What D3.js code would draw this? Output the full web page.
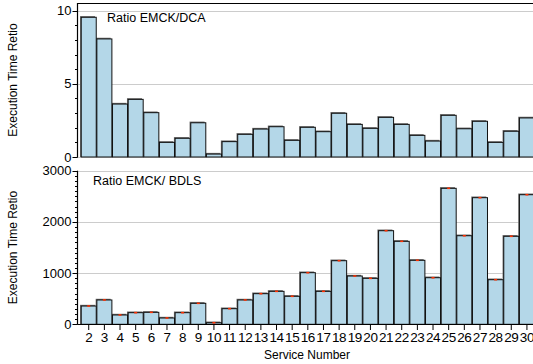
<!DOCTYPE html>
<html>
<head>
<meta charset="utf-8">
<script src="https://cdn.jsdelivr.net/npm/d3@7"></script>
<style>
  body { margin: 0; background: #fff; }
  svg { display: block; font-family: "Liberation Sans", Arial, Helvetica, sans-serif; }
</style>
</head>
<body>
<svg id="chart" width="533" height="364"></svg>
<script>
// service numbers 2..30
var services = [2,3,4,5,6,7,8,9,10,11,12,13,14,15,16,17,18,19,20,21,22,23,24,25,26,27,28,29,30];
// EMCK / DCA ratio
var ratioDCA = [9.55,8.07,3.62,3.94,3.03,1.0,1.28,2.34,0.2,1.05,1.55,1.91,2.07,1.14,2.03,1.73,2.99,
                2.23,1.96,2.71,2.23,1.48,1.09,2.85,1.93,2.44,1.0,1.76,2.67];
// EMCK / BDLS ratio
var ratioBDLS = [357,475,182,227,234,123,227,410,31,305,475,598,644,547,1008,644,1242,
                 943,898,1828,1621,1250,910,2656,1730,2473,871,1719,2531];
var topTicks = [0,5,10];
var botTicks = [0,1000,2000,3000];

var svg = d3.select("#chart");
var axisX = 77.5;
var fill = "#b4d7e8";

var x = d3.scaleBand()
    .domain(services)
    .range([80.9, 80.9 + 29 * 15.65])
    .paddingInner(0.04)
    .paddingOuter(0.02);

var yTop = d3.scaleLinear().domain([0, 10]).range([157, 10.7]);
var yBot = d3.scaleLinear().domain([0, 3000]).range([324.3, 170.7]);

function panel(yScale, values, ticks, minorStep, topY, label, labelX, labelY, redMarks) {
    var g = svg.append("g");
    // gridlines
    g.selectAll("line.grid")
        .data(ticks)
        .join("line")
        .attr("x1", axisX).attr("x2", 533)
        .attr("y1", d => Math.round(yScale(d)) + 0.5)
        .attr("y2", d => Math.round(yScale(d)) + 0.5)
        .attr("stroke", "#999")
        .attr("stroke-width", 1)
        .attr("stroke-dasharray", "1,1");

    // shadows
    g.selectAll("rect.shadow")
        .data(services)
        .join("rect")
        .attr("x", (d) => x(d) - 1.2)
        .attr("y", (d, i) => yScale(values[i]) - 1.2)
        .attr("width", x.bandwidth())
        .attr("height", (d, i) => yScale(0) - yScale(values[i]) + 1.2)
        .attr("fill", "#6f6f6f");

    // bars
    g.selectAll("rect.bar")
        .data(services)
        .join("rect")
        .attr("x", (d) => x(d))
        .attr("y", (d, i) => yScale(values[i]))
        .attr("width", x.bandwidth())
        .attr("height", (d, i) => yScale(0) - yScale(values[i]))
        .attr("fill", fill)
        .attr("stroke", "#111")
        .attr("stroke-width", 1);

    if (redMarks) {
        g.selectAll("line.err")
            .data(services)
            .join("line")
            .attr("x1", (d) => x(d) + x.bandwidth() / 2 - 1.5)
            .attr("x2", (d) => x(d) + x.bandwidth() / 2 + 1.5)
            .attr("y1", (d, i) => yScale(values[i]))
            .attr("y2", (d, i) => yScale(values[i]))
            .attr("stroke", "#ff3000")
            .attr("stroke-width", 1.6);
    }

    // left axis
    var minor = d3.range(0, ticks[ticks.length - 1] + minorStep / 2, minorStep);
    g.append("line")
        .attr("x1", axisX).attr("x2", axisX)
        .attr("y1", topY).attr("y2", yScale(0))
        .attr("stroke", "#000").attr("stroke-width", 1.2);
    g.selectAll("line.minor")
        .data(minor)
        .join("line")
        .attr("x1", axisX - 2.5).attr("x2", axisX)
        .attr("y1", d => Math.round(yScale(d)) + 0.5)
        .attr("y2", d => Math.round(yScale(d)) + 0.5)
        .attr("stroke", "#000");
    g.selectAll("line.major")
        .data(ticks)
        .join("line")
        .attr("x1", axisX - 5).attr("x2", axisX)
        .attr("y1", d => Math.round(yScale(d)) + 0.5)
        .attr("y2", d => Math.round(yScale(d)) + 0.5)
        .attr("stroke", "#000");
    g.selectAll("text.tick")
        .data(ticks)
        .join("text")
        .attr("x", axisX - 6)
        .attr("y", d => yScale(d) + 4.5)
        .attr("text-anchor", "end")
        .attr("font-size", 13)
        .text(d => d);

    g.append("text")
        .attr("x", labelX).attr("y", labelY)
        .attr("font-size", 12.5)
        .text(label);

    g.append("text")
        .attr("transform", "translate(17," + ((yScale(0) + topY) / 2) + ") rotate(-90)")
        .attr("text-anchor", "middle")
        .attr("font-size", 12)
        .text("Execution Time Retio");
}

// top frame line
svg.append("line")
    .attr("x1", axisX).attr("x2", 533)
    .attr("y1", 3.5).attr("y2", 3.5)
    .attr("stroke", "#000").attr("stroke-width", 1.2);

panel(yTop, ratioDCA, topTicks, 1, 3, "Ratio EMCK/DCA", 107, 22, false);
panel(yBot, ratioBDLS, botTicks, 100, 170.7, "Ratio EMCK/ BDLS", 93, 185, true);

// bottom axis
var xAxis = svg.append("g");
xAxis.append("line")
    .attr("x1", axisX).attr("x2", 533)
    .attr("y1", 324.5).attr("y2", 324.5)
    .attr("stroke", "#000").attr("stroke-width", 1.2);
xAxis.selectAll("line.xt")
    .data(services)
    .join("line")
    .attr("x1", d => x(d) + x.bandwidth() / 2)
    .attr("x2", d => x(d) + x.bandwidth() / 2)
    .attr("y1", 324.5).attr("y2", 330)
    .attr("stroke", "#000");
xAxis.selectAll("text.xl")
    .data(services)
    .join("text")
    .attr("x", d => x(d) + x.bandwidth() / 2)
    .attr("y", 342)
    .attr("text-anchor", "middle")
    .attr("font-size", 13.5)
    .attr("letter-spacing", -0.4)
    .text(d => d);
xAxis.append("text")
    .attr("x", 307).attr("y", 359)
    .attr("text-anchor", "middle")
    .attr("font-size", 12)
    .text("Service Number");
</script>
</body>
</html>
